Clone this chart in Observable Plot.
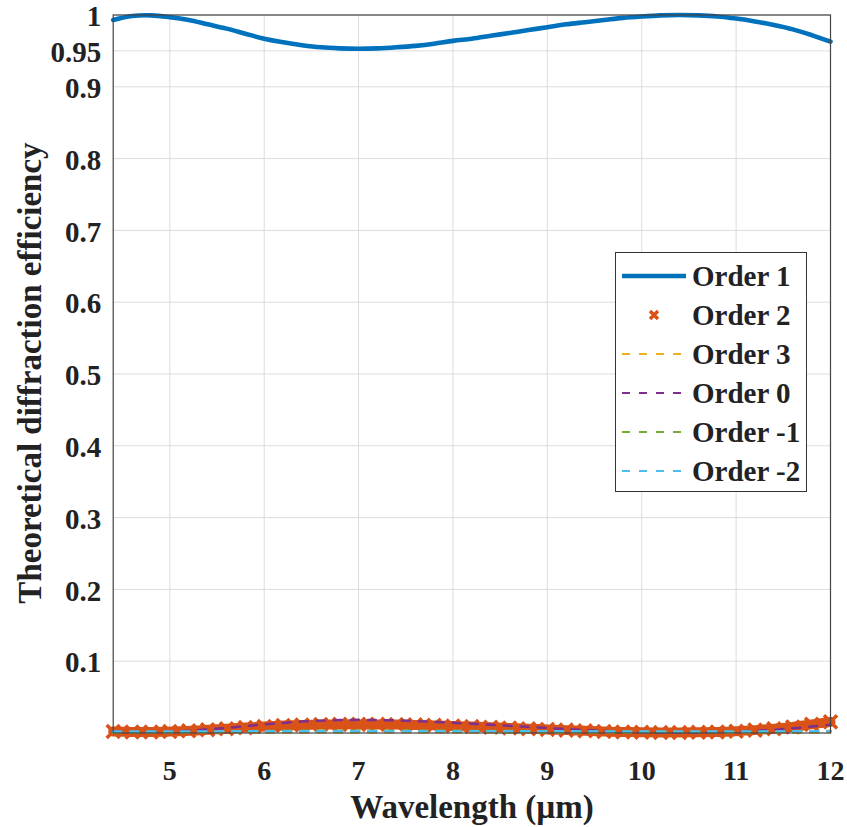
<!DOCTYPE html>
<html>
<head>
<meta charset="utf-8">
<script src="https://cdn.jsdelivr.net/npm/d3@7"></script>
<script src="https://cdn.jsdelivr.net/npm/@observablehq/plot@0.6"></script>
<style>
  html, body { margin: 0; padding: 0; background: #fff; }
  #wrap { position: relative; width: 847px; height: 827px; font-family: "Liberation Serif", "Times New Roman", Times, serif; font-weight: bold; color: #222; }
  .ttl { position: absolute; font-size: 33px; white-space: nowrap; line-height: 1; }
  #legend { position: absolute; left: 615px; top: 252px; width: 192px; height: 240px; border: 1.3px solid #333; background: #fff; box-sizing: border-box; }
  .row { position: absolute; left: 0; height: 30px; display: flex; align-items: center; }
  .row svg { margin-left: 6px; flex: none; }
  .row span { margin-left: 6px; font-size: 29px; white-space: nowrap; }
  svg text { font-family: "Liberation Serif", "Times New Roman", Times, serif; }
</style>
</head>
<body>
<div id="wrap"></div>
<script>
// Wavelength (µm)
const wavelength = [4.4,4.6,4.8,5.0,5.2,5.4,5.6,5.8,6.0,6.2,6.4,6.6,6.8,7.0,7.2,7.4,7.6,7.8,8.0,8.2,8.4,8.6,8.8,9.0,9.2,9.4,9.6,9.8,10.0,10.2,10.4,10.6,10.8,11.0,11.2,11.4,11.6,11.8,12.0];
const order1 = [0.993,0.9985,0.9995,0.997,0.993,0.987,0.981,0.974,0.967,0.962,0.958,0.955,0.9535,0.953,0.9535,0.955,0.957,0.960,0.964,0.967,0.971,0.975,0.979,0.983,0.987,0.990,0.993,0.996,0.998,0.9995,1.0,0.9995,0.998,0.995,0.991,0.986,0.980,0.972,0.963];
const order2 = [0.002,0.0015,0.0015,0.002,0.003,0.0045,0.006,0.0075,0.009,0.0103,0.0112,0.0118,0.012,0.012,0.012,0.0118,0.0113,0.0106,0.0098,0.009,0.008,0.007,0.006,0.005,0.004,0.003,0.002,0.0015,0.001,0.0008,0.0008,0.001,0.0015,0.0025,0.004,0.006,0.0085,0.012,0.0155];
const order3 = [0.0005,0.0005,0.0005,0.0005,0.0005,0.0005,0.0006,0.0006,0.0007,0.0007,0.0008,0.0008,0.0008,0.0008,0.0008,0.0008,0.0008,0.0008,0.0007,0.0007,0.0007,0.0006,0.0006,0.0005,0.0005,0.0005,0.0004,0.0004,0.0004,0.0004,0.0004,0.0004,0.0004,0.0005,0.0005,0.0006,0.0007,0.0008,0.001];
const order0 = [0.002,0.0015,0.0015,0.002,0.003,0.005,0.007,0.0095,0.012,0.014,0.016,0.0172,0.018,0.0183,0.018,0.0175,0.0165,0.0155,0.0142,0.013,0.0115,0.010,0.0085,0.007,0.0055,0.004,0.003,0.002,0.0012,0.0008,0.0006,0.0008,0.0012,0.002,0.003,0.0045,0.0065,0.009,0.0115];
const orderM1 = [0.001,0.001,0.001,0.0012,0.0015,0.0018,0.0022,0.0025,0.0028,0.003,0.0031,0.0032,0.0032,0.0032,0.0032,0.0031,0.0031,0.003,0.003,0.0029,0.0028,0.0027,0.0026,0.0025,0.0023,0.0022,0.002,0.0019,0.0018,0.0017,0.0016,0.0016,0.0016,0.0017,0.0018,0.002,0.0022,0.0025,0.0028];
const orderM2 = [0.0022,0.0021,0.0021,0.0021,0.0022,0.0022,0.0023,0.0023,0.0024,0.0024,0.0025,0.0025,0.0025,0.0025,0.0025,0.0025,0.0025,0.0025,0.0025,0.0025,0.0024,0.0024,0.0024,0.0023,0.0023,0.0022,0.0022,0.0021,0.0021,0.0021,0.0021,0.0021,0.0021,0.0021,0.0022,0.0022,0.0023,0.0024,0.0025];

const seriesNames = ["Order 1","Order 2","Order 3","Order 0","Order -1","Order -2"];
const seriesColors = ["#0072BD","#D95319","#EDB120","#7E2F8E","#77AC30","#4DBEEE"];
const xTicks = [5,6,7,8,9,10,11,12];
const yTicks = [0.1,0.2,0.3,0.4,0.5,0.6,0.7,0.8,0.9,0.95,1];
const xLabel = "Wavelength (µm)";
const yLabel = "Theoretical diffraction efficiency";

const rows = (vals) => wavelength.map((w, i) => ({w, v: vals[i]}));
const dash = "8,9";
const FONT = "Liberation Serif, Times New Roman, Times, serif";

const plot = Plot.plot({
  width: 847,
  height: 827,
  marginLeft: 112.7,
  marginRight: 17,
  marginTop: 14.5,
  marginBottom: 94.5,
  style: {fontFamily: FONT, fontWeight: "bold", fontSize: "29px", color: "#222", background: "#fff"},
  x: {type: "linear", domain: [4.4, 12]},
  y: {type: "linear", domain: [0, 1]},
  marks: [
    Plot.gridX(xTicks, {stroke: "#dcdcdc", strokeOpacity: 1, strokeWidth: 1}),
    Plot.gridY(yTicks, {stroke: "#dcdcdc", strokeOpacity: 1, strokeWidth: 1}),
    Plot.axisX(xTicks, {tickSize: 0, tickPadding: 27, label: null, fontSize: 28, fontWeight: "bold", fontFamily: FONT}),
    Plot.axisY(yTicks, {tickSize: 0, tickPadding: 12, dy: 2, label: null, fontSize: 29, fontWeight: "bold", fontFamily: FONT, tickFormat: d => String(d)}),
    Plot.line(rows(order1), {x: "w", y: "v", stroke: seriesColors[0], strokeWidth: 4.6, curve: "catmull-rom"}),
    Plot.line(rows(order2), {x: "w", y: "v", stroke: seriesColors[1], strokeWidth: 10, curve: "catmull-rom"}),
    Plot.dot(rows(order2), {x: "w", y: "v", symbol: "times", r: 6, stroke: seriesColors[1], strokeWidth: 3.5}),
    Plot.line(rows(order3), {x: "w", y: "v", stroke: seriesColors[2], strokeWidth: 2.5, strokeDasharray: dash, curve: "catmull-rom"}),
    Plot.line(rows(order0), {x: "w", y: "v", stroke: seriesColors[3], strokeWidth: 2.5, strokeDasharray: dash, curve: "catmull-rom"}),
    Plot.line(rows(orderM1), {x: "w", y: "v", stroke: seriesColors[4], strokeWidth: 2.5, strokeDasharray: dash, curve: "catmull-rom"}),
    Plot.line(rows(orderM2), {x: "w", y: "v", stroke: seriesColors[5], strokeWidth: 2.5, strokeDasharray: dash, curve: "catmull-rom"}),
    Plot.frame({stroke: "#444", strokeWidth: 1.2})
  ]
});

const wrap = document.getElementById("wrap");
wrap.appendChild(plot);
plot.style.position = "absolute";
plot.style.left = "0";
plot.style.top = "0";

const xt = document.createElement("div");
xt.className = "ttl";
xt.textContent = xLabel;
xt.style.left = "472px"; xt.style.top = "807px";
xt.style.transform = "translate(-50%,-50%)";
wrap.appendChild(xt);

const yt = document.createElement("div");
yt.className = "ttl";
yt.textContent = yLabel;
yt.style.left = "30px"; yt.style.top = "373px";
yt.style.transform = "translate(-50%,-50%) rotate(-90deg)";
wrap.appendChild(yt);

const lg = document.createElement("div");
lg.id = "legend";
wrap.appendChild(lg);
seriesNames.forEach((name, i) => {
  const r = document.createElement("div");
  r.className = "row";
  r.style.top = (8 + i * 39) + "px";
  let sample;
  if (i === 0) {
    sample = `<line x1="0" y1="15" x2="64" y2="15" stroke="${seriesColors[0]}" stroke-width="4.6"/>`;
  } else if (i === 1) {
    sample = `<path d="M28,11 L36,19 M36,11 L28,19" stroke="${seriesColors[1]}" stroke-width="3.5"/>`;
  } else {
    sample = `<line x1="0" y1="15" x2="64" y2="15" stroke="${seriesColors[i]}" stroke-width="2" stroke-dasharray="8,9"/>`;
  }
  r.innerHTML = `<svg width="64" height="30">${sample}</svg><span>${name}</span>`;
  lg.appendChild(r);
});
</script>
</body>
</html>
